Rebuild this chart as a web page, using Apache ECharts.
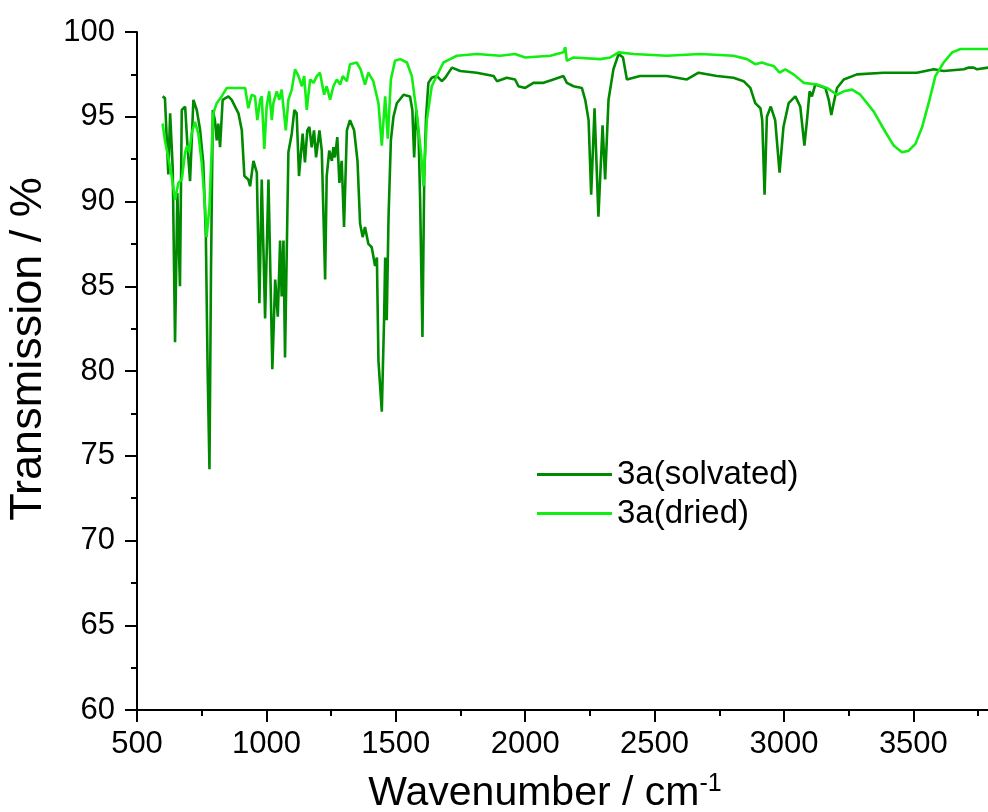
<!DOCTYPE html>
<html>
<head>
<meta charset="utf-8">
<script src="https://cdn.jsdelivr.net/npm/echarts@6/dist/echarts.min.js"></script>
<style>
  html, body { margin: 0; padding: 0; background: #fff; }
  #chart { width: 988px; height: 812px; }
</style>
</head>
<body>
<div id="chart"></div>
<script>
// IR spectra
const solvatedWn = [599, 608, 621, 628, 638, 647, 656, 666, 673, 686, 695, 705, 718, 731, 744, 756, 766, 773, 780, 786, 793, 801, 808, 814, 821, 831, 853, 866, 892, 905, 915, 930, 937, 950, 963, 973, 982, 995, 1008, 1023, 1034, 1044, 1053, 1059, 1066, 1072, 1085, 1098, 1108, 1117, 1126, 1140, 1149, 1158, 1166, 1175, 1184, 1192, 1205, 1214, 1220, 1227, 1233, 1243, 1253, 1259, 1265, 1274, 1282, 1291, 1300, 1311, 1323, 1339, 1352, 1362, 1372, 1381, 1394, 1407, 1413, 1420, 1427, 1433, 1446, 1455, 1459, 1465, 1472, 1481, 1491, 1504, 1530, 1555, 1564, 1571, 1579, 1588, 1594, 1603, 1610, 1617, 1626, 1639, 1659, 1678, 1691, 1717, 1749, 1813, 1878, 1891, 1929, 1961, 1974, 2000, 2032, 2071, 2109, 2148, 2161, 2187, 2219, 2232, 2245, 2255, 2268, 2283, 2299, 2309, 2322, 2341, 2361, 2378, 2393, 2444, 2547, 2625, 2670, 2741, 2805, 2844, 2870, 2889, 2909, 2916, 2925, 2934, 2949, 2966, 2983, 2998, 3018, 3044, 3063, 3079, 3089, 3099, 3108, 3121, 3141, 3160, 3173, 3183, 3192, 3205, 3231, 3282, 3385, 3514, 3579, 3617, 3695, 3714, 3733, 3746, 3790];
const solvatedT = [96.2, 96.1, 91.6, 95.2, 92.0, 81.7, 90.5, 85.0, 95.4, 95.6, 93.3, 91.2, 96.0, 95.4, 94.2, 92.3, 88.0, 80.0, 74.2, 86.0, 95.4, 94.8, 93.6, 94.6, 93.2, 96.0, 96.2, 96.0, 95.2, 94.2, 91.5, 91.3, 90.9, 92.4, 91.7, 84.0, 91.3, 83.1, 91.3, 80.1, 85.4, 83.2, 87.7, 84.4, 87.7, 80.8, 92.9, 94.0, 95.4, 95.2, 91.5, 94.0, 92.3, 94.2, 94.4, 93.2, 94.2, 92.6, 94.2, 93.0, 89.5, 85.4, 91.5, 93.0, 92.4, 93.2, 92.6, 93.8, 91.1, 92.4, 88.5, 94.2, 94.8, 94.2, 92.4, 88.7, 87.9, 88.5, 87.5, 87.3, 87.3, 86.2, 86.7, 80.6, 77.6, 83.2, 86.7, 83.0, 89.1, 93.6, 95.0, 95.8, 96.3, 96.2, 95.4, 92.6, 95.4, 94.0, 90.1, 82.0, 91.5, 95.0, 97.0, 97.3, 97.4, 97.1, 97.3, 97.9, 97.7, 97.6, 97.4, 97.1, 97.3, 97.2, 96.8, 96.7, 97.0, 97.0, 97.2, 97.4, 97.0, 96.8, 96.7, 96.0, 94.8, 90.4, 95.5, 89.1, 94.5, 91.3, 96.0, 97.8, 98.7, 98.5, 97.2, 97.4, 97.4, 97.2, 97.6, 97.4, 97.3, 97.1, 96.7, 95.8, 95.5, 94.8, 90.4, 95.0, 95.6, 94.8, 91.7, 94.4, 95.8, 96.2, 95.6, 93.3, 94.8, 96.5, 96.2, 96.9, 96.8, 96.7, 96.0, 95.1, 95.8, 96.7, 97.2, 97.5, 97.6, 97.6, 97.8, 97.7, 97.8, 97.9, 97.9, 97.8, 97.9];

const driedWn = [599, 608, 621, 634, 647, 660, 673, 686, 694, 702, 711, 724, 737, 750, 763, 769, 780, 789, 795, 808, 827, 847, 872, 918, 930, 943, 956, 965, 976, 982, 992, 1001, 1011, 1021, 1027, 1040, 1050, 1059, 1075, 1085, 1098, 1111, 1124, 1137, 1146, 1156, 1169, 1182, 1195, 1207, 1223, 1233, 1246, 1259, 1272, 1285, 1295, 1311, 1323, 1349, 1364, 1381, 1394, 1413, 1433, 1446, 1459, 1469, 1481, 1497, 1517, 1543, 1562, 1581, 1598, 1607, 1620, 1639, 1671, 1684, 1710, 1736, 1813, 1903, 1961, 2000, 2097, 2148, 2155, 2161, 2187, 2290, 2329, 2361, 2419, 2547, 2677, 2805, 2857, 2889, 2915, 2934, 2960, 2983, 3005, 3037, 3076, 3128, 3166, 3205, 3231, 3263, 3295, 3347, 3392, 3424, 3456, 3482, 3508, 3534, 3559, 3585, 3617, 3650, 3682, 3733, 3790];
const driedT = [94.6, 93.6, 92.6, 91.5, 90.1, 91.1, 91.3, 92.9, 93.3, 92.9, 94.0, 94.7, 94.0, 92.3, 89.7, 87.9, 89.7, 93.2, 95.2, 95.8, 96.2, 96.7, 96.7, 96.7, 95.5, 96.3, 96.2, 94.8, 96.0, 96.2, 93.1, 95.6, 96.5, 94.8, 95.8, 96.5, 96.0, 96.6, 94.2, 96.0, 96.6, 97.8, 97.4, 96.8, 97.4, 95.4, 97.2, 97.0, 97.4, 97.6, 96.3, 96.8, 96.0, 96.8, 97.2, 96.9, 97.4, 97.1, 98.1, 98.2, 97.8, 96.9, 97.6, 97.1, 95.8, 93.3, 96.2, 93.7, 97.2, 98.3, 98.4, 98.2, 97.4, 95.2, 92.8, 90.9, 94.8, 96.8, 97.8, 98.2, 98.4, 98.6, 98.7, 98.6, 98.7, 98.5, 98.6, 98.8, 99.1, 98.3, 98.5, 98.4, 98.5, 98.8, 98.7, 98.6, 98.7, 98.6, 98.4, 98.1, 98.2, 98.1, 98.0, 97.6, 97.8, 97.5, 97.0, 96.9, 96.7, 96.3, 96.5, 96.6, 96.3, 95.3, 94.1, 93.3, 92.9, 93.0, 93.4, 94.4, 95.8, 97.4, 98.2, 98.8, 99.0, 99.0, 99.0];

const seriesNames = ['3a(solvated)', '3a(dried)'];
const xTicks = [500, 1000, 1500, 2000, 2500, 3000, 3500];

const FONT = '"Liberation Sans", Arial, sans-serif';

function pairs(xs, ys) {
    return xs.map((x, i) => [x, ys[i]]);
}

const chart = echarts.init(document.getElementById('chart'));

const options = {
    animation: false,
    backgroundColor: '#ffffff',
    color: ['#008a00', '#11ee11'],
    grid: { left: 137, right: -3, top: 32, bottom: 102, outerBoundsMode: 'none', containLabel: false },
    legend: {
        orient: 'vertical',
        left: 537,
        top: 458,
        padding: 0,
        icon: 'rect',
        itemWidth: 75,
        itemHeight: 3,
        itemGap: 6,
        textStyle: { fontFamily: FONT, fontSize: 33, color: '#000' },
        data: seriesNames
    },
    xAxis: {
        type: 'value',
        min: 500,
        max: 3800,
        interval: 500,
        name: 'Wavenumber / cm{sup|-1}',
        nameLocation: 'middle',
        nameGap: 62,
        nameTextStyle: {
            fontFamily: FONT, fontSize: 41, color: '#000',
            padding: [0, 38, 0, 0],
            rich: { sup: { fontFamily: FONT, fontSize: 25, color: '#000', verticalAlign: 'top', padding: [0, 0, 18, 0] } }
        },
        axisLine: { lineStyle: { color: '#000', width: 2 } },
        axisTick: { inside: false, length: 12, lineStyle: { color: '#000', width: 2 } },
        minorTick: { show: true, splitNumber: 2, length: 6, lineStyle: { color: '#000', width: 2 } },
        splitLine: { show: false },
        axisLabel: {
            fontFamily: FONT, fontSize: 31, color: '#000', margin: 19,
            formatter: v => (xTicks.indexOf(v) >= 0 ? String(v) : '')
        }
    },
    yAxis: {
        type: 'value',
        min: 60,
        max: 100,
        interval: 5,
        name: 'Transmission / %',
        nameLocation: 'middle',
        nameGap: 86,
        nameTextStyle: { fontFamily: FONT, fontSize: 45, color: '#000', padding: [0, 0, 0, 44] },
        axisLine: { show: true, lineStyle: { color: '#000', width: 2 } },
        axisTick: { inside: false, length: 12, lineStyle: { color: '#000', width: 2 } },
        minorTick: { show: true, splitNumber: 2, length: 6, lineStyle: { color: '#000', width: 2 } },
        splitLine: { show: false },
        axisLabel: { fontFamily: FONT, fontSize: 31, color: '#000', margin: 22 }
    },
    series: [
        {
            name: seriesNames[0],
            type: 'line',
            showSymbol: false,
            symbol: 'none',
            lineStyle: { width: 2.6 },
            data: pairs(solvatedWn, solvatedT)
        },
        {
            name: seriesNames[1],
            type: 'line',
            showSymbol: false,
            symbol: 'none',
            lineStyle: { width: 2.6 },
            data: pairs(driedWn, driedT)
        }
    ]
};

chart.setOption(options);
window.onresize = function () {
    chart.resize();
};
</script>
</body>
</html>
